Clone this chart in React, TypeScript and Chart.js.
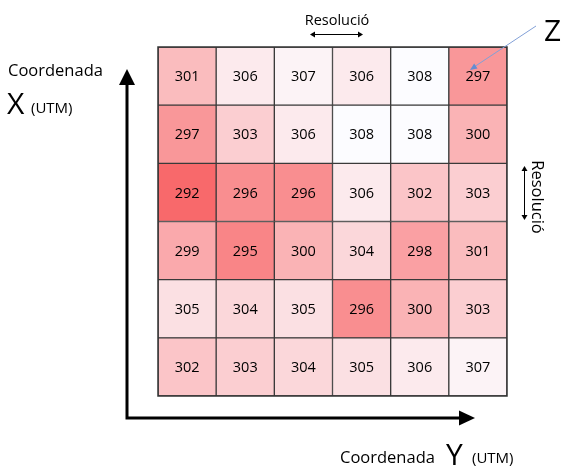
import React, { useEffect, useRef } from "react";
import { Chart, registerables } from "chart.js";

Chart.register(...registerables);

const columns = ["C1", "C2", "C3", "C4", "C5", "C6"];
const row1 = [301, 306, 307, 306, 308, 297];
const row2 = [297, 303, 306, 308, 308, 300];
const row3 = [292, 296, 296, 306, 302, 303];
const row4 = [299, 295, 300, 304, 298, 301];
const row5 = [305, 304, 305, 296, 300, 303];
const row6 = [302, 303, 304, 305, 306, 307];
const rowsTopToBottom = [row1, row2, row3, row4, row5, row6];

const FONT = "'Open Sans', 'Liberation Sans', sans-serif";

const allVals = rowsTopToBottom.flat();
const vMin = Math.min(...allVals);
const vMax = Math.max(...allVals);
const lowColor = [248, 105, 107];
const highColor = [252, 252, 255];
function scaleColor(v: number): string {
  const t = (v - vMin) / (vMax - vMin);
  const c = lowColor.map((lo, i) => Math.round(lo + (highColor[i] - lo) * t));
  return `rgb(${c[0]},${c[1]},${c[2]})`;
}

const valueLabels = {
  id: "valueLabels",
  afterDatasetsDraw(chart: any) {
    const ctx = chart.ctx;
    ctx.save();
    ctx.fillStyle = "#000";
    ctx.font = `14.5px ${FONT}`;
    ctx.textAlign = "center";
    ctx.textBaseline = "middle";
    chart.data.datasets.forEach((ds: any, di: number) => {
      const meta = chart.getDatasetMeta(di);
      meta.data.forEach((bar: any, i: number) => {
        const yc = (bar.y + bar.base) / 2;
        ctx.fillText(String(ds.values[i]), bar.x, yc + 1);
      });
    });
    ctx.restore();
  },
};

function arrowHead(ctx: CanvasRenderingContext2D, x: number, y: number, angle: number, len: number, half: number) {
  ctx.save();
  ctx.translate(x, y);
  ctx.rotate(angle);
  ctx.beginPath();
  ctx.moveTo(0, 0);
  ctx.lineTo(-len, -half);
  ctx.lineTo(-len, half);
  ctx.closePath();
  ctx.fill();
  ctx.restore();
}

const annotations = {
  id: "annotations",
  afterDraw(chart: any) {
    const ctx = chart.ctx as CanvasRenderingContext2D;
    const ca = chart.chartArea;
    const L = ca.left, T = ca.top, R = ca.right, B = ca.bottom;
    ctx.save();
    // outer frame
    ctx.strokeStyle = "#333";
    ctx.lineWidth = 1.5;
    ctx.strokeRect(L, T, R - L, B - T);

    // main axes arrows
    ctx.strokeStyle = "#000";
    ctx.fillStyle = "#000";
    ctx.lineWidth = 3;
    const ax = L - 31;
    const ay = B + 22;
    ctx.beginPath();
    ctx.moveTo(ax, ay);
    ctx.lineTo(ax, T + 36);
    ctx.moveTo(ax - 1.5, ay);
    ctx.lineTo(R - 45, ay);
    ctx.stroke();
    arrowHead(ctx, ax, T + 22, -Math.PI / 2, 16, 8);
    arrowHead(ctx, R - 32, ay, 0, 16, 7.5);

    // left label
    ctx.textBaseline = "alphabetic";
    ctx.textAlign = "left";
    ctx.font = `16.5px ${FONT}`;
    ctx.fillText("Coordenada", 8, 76);
    ctx.font = `30px ${FONT}`;
    ctx.fillText("X", 7, 114);
    ctx.font = `15px ${FONT}`;
    ctx.fillText("(UTM)", 31, 113);

    // bottom label
    ctx.font = `16.5px ${FONT}`;
    ctx.fillText("Coordenada", 340, 463);
    ctx.font = `30px ${FONT}`;
    ctx.fillText("Y", 446, 465);
    ctx.font = `15px ${FONT}`;
    ctx.fillText("(UTM)", 472, 463);

    // top resolution
    ctx.font = `14.5px ${FONT}`;
    ctx.textAlign = "center";
    ctx.fillText("Resolució", 337, 25);
    ctx.lineWidth = 1;
    ctx.beginPath();
    ctx.moveTo(313, 34.5);
    ctx.lineTo(360, 34.5);
    ctx.stroke();
    arrowHead(ctx, 363, 34.5, 0, 5, 3);
    arrowHead(ctx, 310, 34.5, Math.PI, 5, 3);

    // right resolution (rotated)
    ctx.save();
    ctx.translate(537, 197);
    ctx.rotate(Math.PI / 2);
    ctx.font = `16.5px ${FONT}`;
    ctx.textBaseline = "middle";
    ctx.fillText("Resolució", 0, 0);
    ctx.restore();
    ctx.beginPath();
    ctx.moveTo(524.5, 169);
    ctx.lineTo(524.5, 217);
    ctx.stroke();
    arrowHead(ctx, 524.5, 166, -Math.PI / 2, 5, 3);
    arrowHead(ctx, 524.5, 220, Math.PI / 2, 5, 3);

    // Z pointer
    ctx.textAlign = "left";
    ctx.font = `30px ${FONT}`;
    ctx.fillText("Z", 544, 41);
    ctx.strokeStyle = "rgb(130,160,215)";
    ctx.fillStyle = "rgb(100,140,210)";
    ctx.lineWidth = 1;
    ctx.beginPath();
    ctx.moveTo(536, 26);
    ctx.lineTo(474, 67);
    ctx.stroke();
    arrowHead(ctx, 470, 70, Math.atan2(70 - 26, 470 - 536), 7, 3);
    ctx.restore();
  },
};

export default function App() {
  const ref = useRef<HTMLCanvasElement | null>(null);
  useEffect(() => {
    document.body.style.margin = "0";
    const bottomToTop = [...rowsTopToBottom].reverse();
    const datasets = bottomToTop.map((row, r) => ({
      label: `row${6 - r}`,
      data: row.map(() => 1),
      values: row,
      backgroundColor: row.map(scaleColor),
      borderColor: "#3a3a3a",
      borderWidth: 1,
      borderSkipped: false,
      categoryPercentage: 1,
      barPercentage: 1,
    }));
    const chart = new Chart(ref.current as HTMLCanvasElement, {
      type: "bar",
      data: { labels: columns, datasets: datasets as any },
      options: {
        responsive: false,
        animation: false,
        layout: { padding: { left: 158, right: 55, top: 47, bottom: 72 } },
        plugins: { legend: { display: false }, tooltip: { enabled: false } },
        scales: {
          x: { stacked: true, display: false },
          y: { stacked: true, display: false, min: 0, max: 6 },
        },
      },
      plugins: [valueLabels, annotations],
    });
    return () => chart.destroy();
  }, []);
  return (
    <div style={{ position: "absolute", left: 0, top: 0, width: 562, height: 468 }}>
      <canvas ref={ref} width={562} height={468} />
    </div>
  );
}
